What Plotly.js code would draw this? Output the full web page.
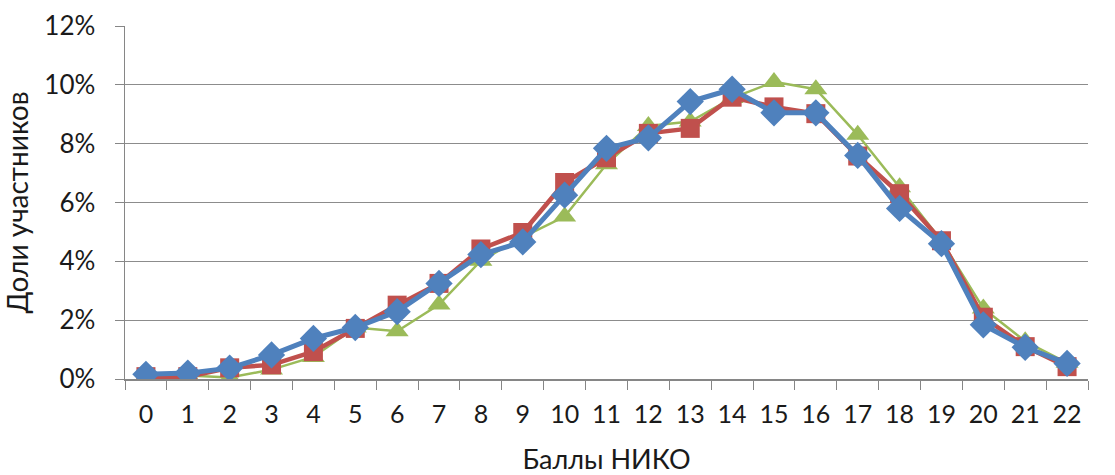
<!DOCTYPE html>
<html>
<head>
<meta charset="utf-8">
<script src="https://cdn.plot.ly/plotly-3.0.1.min.js"></script>
<style>html,body{margin:0;padding:0;background:#fff;}#chart{width:1115px;height:475px;}</style>
</head>
<body>
<div id="chart"></div>
<script>
const scores = ["0","1","2","3","4","5","6","7","8","9","10","11","12","13","14","15","16","17","18","19","20","21","22"];
const seriesGreen = [0.10, 0.12, 0.05, 0.32, 0.75, 1.75, 1.62, 2.53, 4.02, 4.82, 5.52, 7.30, 8.60, 8.75, 9.55, 10.10, 9.85, 8.30, 6.52, 4.70, 2.40, 1.28, 0.55];
const seriesRed = [0.08, 0.08, 0.38, 0.48, 0.93, 1.72, 2.51, 3.25, 4.42, 4.98, 6.68, 7.52, 8.35, 8.52, 9.58, 9.25, 9.02, 7.58, 6.30, 4.70, 2.10, 1.10, 0.42];
const seriesBlue = [0.16, 0.20, 0.37, 0.82, 1.38, 1.75, 2.29, 3.25, 4.23, 4.66, 6.25, 7.84, 8.20, 9.43, 9.85, 9.05, 9.05, 7.60, 5.80, 4.60, 1.84, 1.08, 0.53];
const yTicks = [0, 2, 4, 6, 8, 10, 12];
const yTickText = ["0%", "2%", "4%", "6%", "8%", "10%", "12%"];

const font = "Lato, 'Open Sans', sans-serif";
const traces = [
  {x: scores, y: seriesGreen, type: "scatter", mode: "lines+markers",
   line: {color: "#9BBB59", width: 2.5},
   marker: {symbol: "triangle-up", size: 20, color: "#9BBB59"}},
  {x: scores, y: seriesRed, type: "scatter", mode: "lines+markers",
   line: {color: "#C0504D", width: 4.5},
   marker: {symbol: "square", size: 19, color: "#C0504D"}},
  {x: scores, y: seriesBlue, type: "scatter", mode: "lines+markers",
   line: {color: "#4F81BD", width: 5},
   marker: {symbol: "diamond", size: 21, color: "#4F81BD"}}
];
const layout = {
  width: 1115, height: 475,
  margin: {l: 125, r: 27, t: 26, b: 96},
  paper_bgcolor: "#fff", plot_bgcolor: "#fff",
  showlegend: false,
  font: {family: font, size: 26, color: "#1a1a1a"},
  xaxis: {
    type: "category", range: [-0.5, 22.5],
    tickson: "boundaries", ticks: "outside", ticklen: 9, tickcolor: "#868686",
    showline: true, linecolor: "#868686", linewidth: 1.5,
    showgrid: false, zeroline: false, ticklabelstandoff: 12,
    tickfont: {family: font, size: 25, color: "#1a1a1a"},
    title: {text: "Баллы НИКО", font: {family: font, size: 27, color: "#1a1a1a"}, standoff: 32}
  },
  yaxis: {
    range: [0, 12], tickvals: yTicks, ticktext: yTickText,
    ticks: "outside", ticklen: 9, tickcolor: "#868686",
    showline: true, linecolor: "#868686", linewidth: 1.5,
    showgrid: true, gridcolor: "#8c8c8c", gridwidth: 1.3, zeroline: false,
    ticklabelstandoff: 14,
    tickfont: {family: font, size: 26, color: "#1a1a1a"},
    title: {text: "Доли участников", font: {family: font, size: 28, color: "#1a1a1a"}, standoff: 8}
  }
};
Plotly.newPlot("chart", traces, layout, {staticPlot: true, displayModeBar: false});
</script>
</body>
</html>
